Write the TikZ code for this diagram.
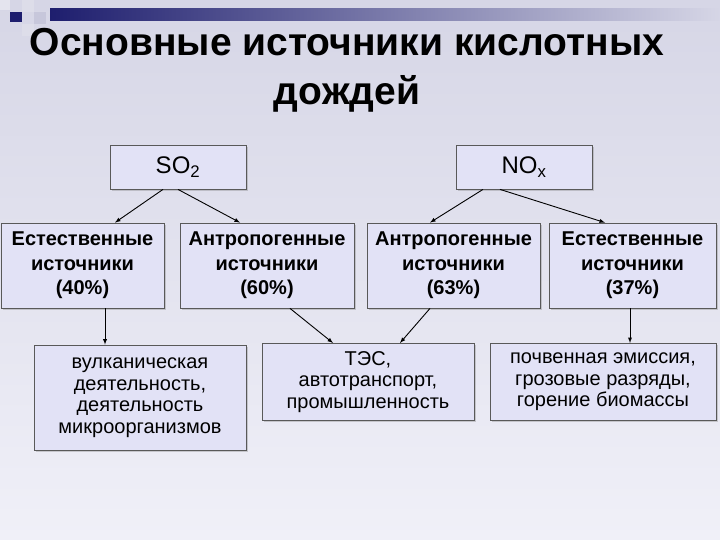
\documentclass[tikz,border=0pt]{standalone}
\usepackage{fontspec}
\setmainfont{Liberation Sans}
\usetikzlibrary{shadows}
\definecolor{bgtop}{RGB}{214,214,230}
\definecolor{bgbot}{RGB}{240,240,248}
\definecolor{boxc}{RGB}{226,226,246}
\definecolor{navy}{RGB}{30,30,110}
\begin{document}
\begin{tikzpicture}[x=1pt,y=-1pt,
 box/.style={draw=gray!70!black,line width=0.8pt,fill=boxc,drop shadow={shadow xshift=2pt,shadow yshift=-2pt,opacity=0.35},align=center,inner sep=0pt},
 arr/.style={-latex,line width=0.9pt}]
\useasboundingbox (0,0) rectangle (720,540);
\shade[top color=bgtop,bottom color=bgbot] (0,0) rectangle (720,540);
\shade[left color=navy,right color=bgtop] (50,9) rectangle (720,21);
\fill[navy] (10,12) rectangle (22,22);
\fill[white!85!navy] (22,0) rectangle (34,12);
\fill[white!75!navy] (34,12) rectangle (46,24);
\fill[white!85!navy] (22,24) rectangle (34,36);
\fill[white!88!navy] (0,0) rectangle (10,10);
\node[font=\bfseries\fontsize{39}{49}\selectfont,align=center] (t) at (347,70) {Основные источники кислотных\\дождей};
\tikzset{mid/.style={box,font=\bfseries\fontsize{20}{24.5}\selectfont}, low/.style={box,font=\fontsize{20}{21.5}\selectfont}}
\node[box,font=\fontsize{24}{26}\selectfont,minimum width=136pt,minimum height=44pt] (so) at (178,167) {SO\textsubscript{2}};
\node[box,font=\fontsize{24}{26}\selectfont,minimum width=136pt,minimum height=44pt] (no) at (524,167) {NO\textsubscript{x}};
\node[mid,minimum width=163pt,minimum height=85pt] (e1) at (82.5,265.5) {Естественные\\источники\\(40\%)};
\node[mid,minimum width=174pt,minimum height=85pt] (a1) at (267,265.5) {Антропогенные\\источники\\(60\%)};
\node[mid,minimum width=173pt,minimum height=85pt] (a2) at (453.5,265.5) {Антропогенные\\источники\\(63\%)};
\node[mid,minimum width=167pt,minimum height=85pt] (e2) at (632.5,265.5) {Естественные\\источники\\(37\%)};
\node[low,minimum width=212pt,minimum height=105pt] (b1) at (140,397.5) {вулканическая\\деятельность,\\деятельность\\микроорганизмов};
\node[low,minimum width=212pt,minimum height=77pt,anchor=north] (b2) at (368,343) {ТЭС,\\автотранспорт,\\промышленность};
\node[low,minimum width=226pt,minimum height=77pt,anchor=north] (b3) at (603,343) {почвенная эмиссия,\\грозовые разряды,\\горение биомассы};
\draw[arr] (so.south -| 163,0) -- (e1.north -| 115,0);
\draw[arr] (so.south -| 178,0) -- (a1.north -| 240,0);
\draw[arr] (no.south -| 483,0) -- (a2.north -| 430,0);
\draw[arr] (no.south -| 500,0) -- (e2.north -| 605,0);
\draw[arr] (e1.south -| 105,0) -- (b1.north -| 105,0);
\draw[arr] (a1.south -| 290,0) -- (b2.north -| 333,0);
\draw[arr] (a2.south -| 430,0) -- (b2.north -| 400,0);
\draw[arr] (e2.south -| 630,0) -- (b3.north -| 630,0);
\end{tikzpicture}
\end{document}
